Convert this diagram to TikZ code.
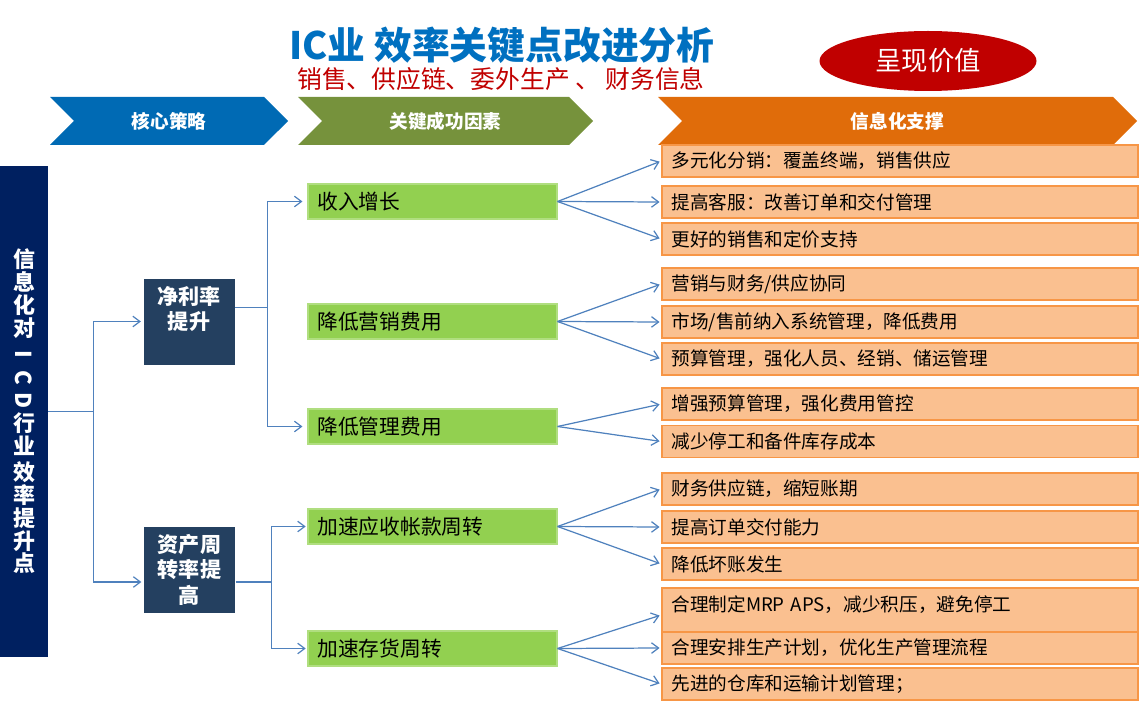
\documentclass[tikz,border=0pt]{standalone}
\usepackage{fontspec}
\setmainfont{Noto Sans CJK SC}
\usetikzlibrary{positioning, shapes.geometric, shapes.symbols, arrows.meta}

\definecolor{titleblue}{RGB}{0,112,192}
\definecolor{darkred}{RGB}{192,0,0}
\definecolor{hdrblue}{RGB}{0,106,180}
\definecolor{hdrgreen}{RGB}{118,146,60}
\definecolor{hdrorange}{RGB}{224,108,10}
\definecolor{barnavy}{RGB}{0,32,96}
\definecolor{boxnavy}{RGB}{36,64,96}
\definecolor{leafgreen}{RGB}{146,208,80}
\definecolor{leafedge}{RGB}{176,222,128}
\definecolor{infofill}{RGB}{250,192,144}
\definecolor{infoedge}{RGB}{247,150,70}
\definecolor{linkblue}{RGB}{79,129,189}

\begin{document}
\begin{tikzpicture}[
    header/.style={signal, signal from=west, signal to=east, minimum height=0.96cm,
        inner sep=0pt, text=white, font=\fontsize{10.6}{12}\selectfont\bfseries},
    strategy/.style={draw=white, line width=0.4pt, fill=boxnavy,
        minimum width=1.84cm, minimum height=1.74cm, inner sep=0pt},
    strattext/.style={align=center, text=white, inner sep=0pt,
        font=\fontsize{12}{14.5}\selectfont\bfseries},
    factor/.style={fill=leafgreen, draw=leafedge, line width=0.6pt, minimum height=0.7cm,
        text width=4.6cm, inner xsep=0.19cm, align=left, font=\fontsize{11.8}{13}\selectfont},
    support/.style={fill=infofill, draw=infoedge, line width=0.8pt, minimum height=0.64cm,
        text width=9.14cm, inner xsep=0.19cm, align=left, font=\fontsize{10.6}{12}\selectfont},
    link/.style={draw=linkblue, line width=0.7pt, shorten >=1pt,
        -{Straight Barb[length=4pt,width=6pt]}}
]
\useasboundingbox (0,0) rectangle (22.8,14.02);

% ── Title block ─────────────────────────────────────────────
\node[font=\fontsize{21.5}{25}\selectfont\bfseries, text=titleblue] (title) at (10.04,13.12)
    {IC业 效率关键点改进分析};
\node[font=\fontsize{14.1}{17}\selectfont, text=darkred] (subtitle) at (10.02,12.44)
    {销售、供应链、委外生产 、 财务信息};
\node[ellipse, fill=darkred, minimum width=4.34cm, minimum height=1.2cm, inner sep=0pt,
    text=white, font=\fontsize{15}{18}\selectfont] (value) at (18.56,12.80) {呈现价值};

% ── Column headers ──────────────────────────────────────────
\node[header, fill=hdrblue,   minimum width=4.76cm] (h1) at (3.38,11.60)  {核心策略};
\node[header, fill=hdrgreen,  minimum width=5.9cm]  (h2) at (8.91,11.60)  {关键成功因素};
\node[header, fill=hdrorange, minimum width=9.58cm] (h3) at (17.95,11.60) {信息化支撑};

% ── Left bar ────────────────────────────────────────────────
\node[fill=barnavy, minimum width=0.96cm, minimum height=9.82cm, inner sep=0pt,
    align=center, text=white, font=\fontsize{12.5}{13}\selectfont\bfseries] (bar) at (0.48,5.79)
    {信\\息\\化\\对\\[2pt]\rotatebox[origin=c]{-90}{I}\\\rotatebox[origin=c]{-90}{C}\\
     \rotatebox[origin=c]{-90}{D}\\行\\业\\[2pt]效\\率\\提\\升\\点};

% ── Col 1: strategies ──────────────────────────────────────
\node[strategy] (np) at (3.78,7.59) {};
\node[strattext, below=0.16cm of np.north] (npt) {净利率\\提升};
\node[strategy] (ap) at (3.79,2.63) {};
\node[strattext, below=0.16cm of ap.north] (apt) {资产周\\转率提\\高};

% ── Col 2: key factors ─────────────────────────────────────
\node[factor] (f1) at (8.65,9.99) {收入增长};
\node[factor] (f2) at (8.65,7.59) {降低营销费用};
\node[factor] (f3) at (8.65,5.49) {降低管理费用};
\node[factor] (f4) at (8.65,3.49) {加速应收帐款周转};
\node[factor] (f5) at (8.65,1.05) {加速存货周转};

% ── Col 3: IT support ──────────────────────────────────────
\node[support] (s1)  at (18.0,10.80) {多元化分销：覆盖终端，销售供应};
\node[support] (s2)  at (18.0,9.98)  {提高客服：改善订单和交付管理};
\node[support] (s3)  at (18.0,9.24)  {更好的销售和定价支持};
\node[support] (s4)  at (18.0,8.34)  {营销与财务/供应协同};
\node[support] (s5)  at (18.0,7.58)  {市场/售前纳入系统管理，降低费用};
\node[support] (s6)  at (18.0,6.84)  {预算管理，强化人员、经销、储运管理};
\node[support] (s7)  at (18.0,5.94)  {增强预算管理，强化费用管控};
\node[support] (s8)  at (18.0,5.19)  {减少停工和备件库存成本};
\node[support] (s9)  at (18.0,4.24)  {财务供应链，缩短账期};
\node[support] (s10) at (18.0,3.48)  {提高订单交付能力};
\node[support] (s11) at (18.0,2.74)  {降低坏账发生};
\node[support, minimum height=0.88cm, text depth=7.5pt] (s12) at (18.0,1.82)
    {合理制定MRP APS，减少积压，避免停工};
\node[support] (s13) at (18.0,1.06)  {合理安排生产计划，优化生产管理流程};
\node[support] (s14) at (18.0,0.34)  {先进的仓库和运输计划管理；};

% ── Connectors ─────────────────────────────────────────────
\draw[link] (bar.east) -- ++(0.9,0) |- (np.west);
\draw[link] (bar.east) -- ++(0.9,0) |- ([yshift=-0.25cm]ap.west);
\draw[link, shorten >=0.1cm] ([yshift=0.28cm]np.east) -- ++(0.64,0) |- (f1.west);
\draw[link, shorten >=0.1cm] ([yshift=0.28cm]np.east) -- ++(0.64,0) |- (f3.west);
\draw[link] ([yshift=-0.25cm]ap.east) -- ++(0.72,0) |- (f4.west);
\draw[link] ([yshift=-0.25cm]ap.east) -- ++(0.72,0) |- (f5.west);

\coordinate (s12in) at ([yshift=-0.1cm]s12.west);
\foreach \a/\b in {f1/s1.west, f1/s2.west, f1/s3.west, f2/s4.west, f2/s5.west, f2/s6.west,
                   f3/s7.west, f3/s8.west, f4/s9.west, f4/s10.west, f4/s11.west,
                   f5/s12in, f5/s13.west, f5/s14.west}
    \draw[link] (\a.east) -- (\b);

\end{tikzpicture}
\end{document}
